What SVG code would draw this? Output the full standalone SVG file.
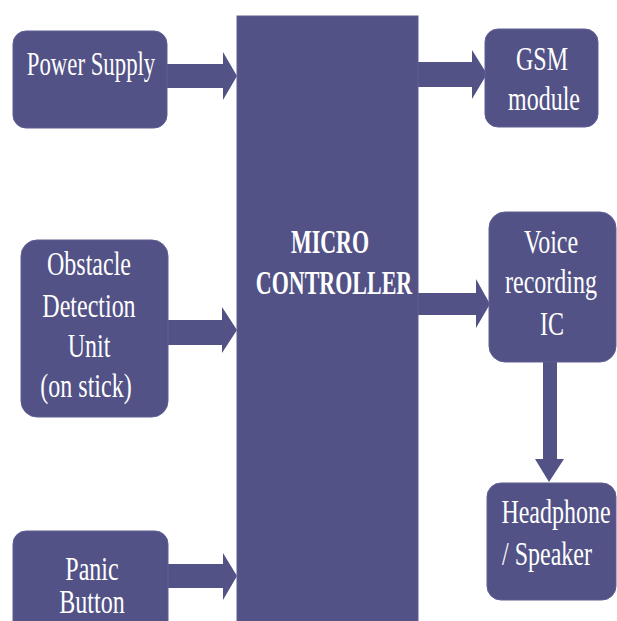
<svg xmlns="http://www.w3.org/2000/svg" width="617" height="621" viewBox="0 0 617 621">
<style>
.box{fill:#525286;stroke:#5e5e94;stroke-width:1}
.arr{fill:#525286}
.t{font-family:"Liberation Serif","DejaVu Serif",serif;font-size:24px;fill:#ffffff;text-anchor:middle}
.b{font-weight:bold;font-size:22px}
</style>
<rect width="617" height="621" fill="#ffffff"/>
<g id="connectors">
<polygon class="arr" points="167,64 223,64 223,52 237,76 223,100 223,88 167,88"/>
<polygon class="arr" points="418,62 472,62 472,50 487,74 472,99 472,87 418,87"/>
<polygon class="arr" points="168,320 222,320 222,307 237,330 222,353 222,345 168,345"/>
<polygon class="arr" points="418,293 476,293 476,279 490,304 476,328 476,315 418,315"/>
<polygon class="arr" points="543,362 557,362 557,459 564,459 549,482 535,459 543,459"/>
<polygon class="arr" points="168,564 223,564 223,553 237,576 223,600 223,588 168,588"/>
</g>
<g id="micro">
<rect class="box" x="237" y="16" width="181" height="612"/>
<text class="t b" transform="matrix(1 0 0 1.5 330 253)">MICRO</text>
<text class="t b" transform="matrix(1 0 0 1.5 334 294)">CONTROLLER</text>
</g>
<g id="power">
<rect class="box" x="13" y="31" width="154" height="97" rx="13"/>
<text class="t" transform="matrix(0.95 0 0 1.38 91 75)">Power Supply</text>
</g>
<g id="obstacle">
<rect class="box" x="21" y="240" width="147" height="177" rx="16"/>
<text class="t" transform="matrix(1 0 0 1.38 89 275)">Obstacle</text>
<text class="t" transform="matrix(1 0 0 1.38 89 317)">Detection</text>
<text class="t" transform="matrix(1 0 0 1.38 89 357)">Unit</text>
<text class="t" transform="matrix(1 0 0 1.38 86 397)">(on stick)</text>
</g>
<g id="panic">
<rect class="box" x="13" y="531" width="155" height="110" rx="13"/>
<text class="t" transform="matrix(1 0 0 1.38 92 580)">Panic</text>
<text class="t" transform="matrix(1 0 0 1.38 92 613)">Button</text>
</g>
<g id="gsm">
<rect class="box" x="485" y="29" width="113" height="98" rx="13"/>
<text class="t" transform="matrix(1 0 0 1.38 542 70)">GSM</text>
<text class="t" transform="matrix(1 0 0 1.38 544 110)">module</text>
</g>
<g id="voice">
<rect class="box" x="489" y="212" width="127" height="150" rx="16"/>
<text class="t" transform="matrix(1 0 0 1.38 551 253)">Voice</text>
<text class="t" transform="matrix(1 0 0 1.38 551 293)">recording</text>
<text class="t" transform="matrix(1 0 0 1.38 552 335)">IC</text>
</g>
<g id="headphone">
<rect class="box" x="487" y="483" width="129" height="117" rx="14"/>
<text class="t" transform="matrix(1 0 0 1.38 556 523)">Headphone</text>
<text class="t" transform="matrix(1 0 0 1.38 547 565)">/ Speaker</text>
</g>
</svg>
